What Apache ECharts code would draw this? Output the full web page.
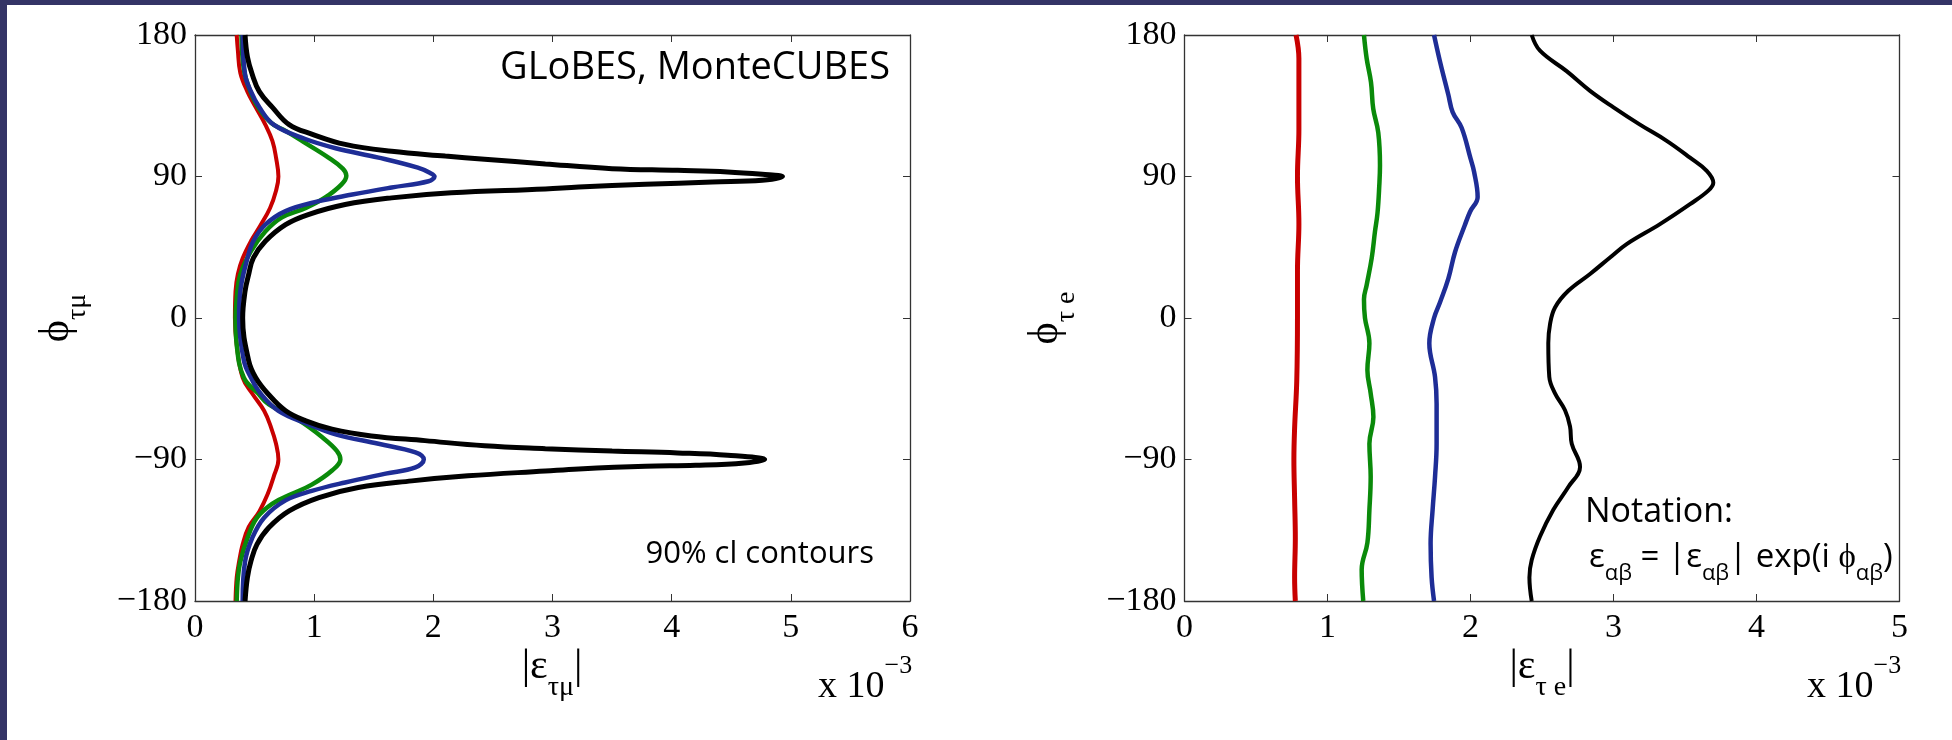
<!DOCTYPE html>
<html>
<head>
<meta charset="utf-8">
<script src="https://cdn.jsdelivr.net/npm/echarts@6.0.0/dist/echarts.min.js"></script>
<style>
html,body{margin:0;padding:0;background:#fff;}
#chart{width:1952px;height:740px;}
</style>
</head>
<body>
<div id="chart"></div>
<script>
// |eps| in units of 1e-3, phase in degrees; each contour traced from +180 down to -180

// left panel: |eps_tau mu| vs phi_tau mu
var tmRed = [[0.35,180],[0.36,170],[0.38,156],[0.44,144],[0.51,134],[0.59,123],[0.65,112.5],[0.68,102],[0.70,90],[0.68,81],[0.63,70],[0.55,59],[0.47,49],[0.40,38],[0.36,28],[0.34,17],[0.335,0],[0.35,-17],[0.40,-38],[0.48,-48],[0.58,-59],[0.64,-70],[0.68,-80],[0.70,-90],[0.66,-101],[0.61,-112],[0.54,-123],[0.45,-133],[0.40,-144],[0.37,-155],[0.35,-165],[0.34,-180]];
var tmGreen = [[0.39,180],[0.41,158],[0.46,145],[0.53,134],[0.64,124],[0.76,119],[0.91,112],[1.12,102],[1.24,95],[1.27,90.5],[1.23,85],[1.09,76.5],[0.93,70],[0.73,64],[0.59,55],[0.47,42.5],[0.38,27.6],[0.35,12.7],[0.34,0],[0.35,-17],[0.41,-38],[0.53,-48],[0.62,-55],[0.87,-65],[1.07,-76],[1.19,-84.5],[1.22,-90],[1.15,-97],[0.98,-106],[0.81,-112],[0.65,-118],[0.52,-127],[0.44,-140],[0.38,-155],[0.36,-165],[0.35,-180]];
var tmBlue = [[0.40,180],[0.42,155],[0.47,144],[0.54,134],[0.66,123],[0.92,114],[1.18,108],[1.54,102],[1.87,95.6],[1.97,92.4],[2.01,90],[1.96,87],[1.65,83],[1.32,78.5],[1.04,74.3],[0.76,68],[0.59,59.4],[0.49,49],[0.44,38],[0.38,17],[0.37,0],[0.41,-27],[0.47,-38],[0.55,-48],[0.70,-59],[0.95,-67.5],[1.18,-74],[1.54,-80],[1.85,-85.5],[1.92,-90],[1.85,-95],[1.60,-99],[1.26,-104.6],[0.98,-110],[0.76,-116],[0.58,-127],[0.48,-140],[0.42,-155],[0.40,-180]];
var tmBlack = [[0.42,180],[0.44,166],[0.48,155],[0.54,144],[0.65,134],[0.79,123],[0.98,117],[1.26,110.4],[1.65,106],[2.10,103],[2.43,101],[2.94,98],[3.50,95],[4.05,93.9],[4.47,92.9],[4.76,91.4],[4.93,90],[4.76,87.6],[4.34,86.5],[3.78,85],[3.22,83.3],[2.94,82],[2.15,79.6],[1.65,76.4],[1.26,72.2],[0.95,65.8],[0.76,59.4],[0.59,48.8],[0.49,38.2],[0.45,27.6],[0.42,17],[0.40,0],[0.45,-27],[0.51,-38],[0.61,-48],[0.76,-59],[0.93,-65.4],[1.15,-70.7],[1.48,-75],[1.93,-78],[2.43,-81.3],[2.94,-83.1],[3.50,-84.6],[4.05,-85.8],[4.47,-87.3],[4.78,-90],[4.61,-92.2],[4.20,-93.7],[3.78,-94.3],[3.22,-96],[2.94,-97.3],[2.29,-100.4],[1.82,-103.6],[1.37,-107.8],[1.04,-114.2],[0.79,-122.7],[0.62,-133.3],[0.52,-144],[0.47,-154.5],[0.44,-165],[0.42,-180]];

// right panel: |eps_tau e| vs phi_tau e
var teRed = [[0.78,180],[0.80,165],[0.80,140],[0.80,120],[0.79,90],[0.80,60],[0.79,30],[0.79,0],[0.785,-40],[0.77,-70],[0.765,-90],[0.77,-115],[0.775,-140],[0.77,-165],[0.775,-180]];
var teGreen = [[1.255,180],[1.274,165],[1.304,150],[1.32,133],[1.355,118],[1.367,97],[1.362,84],[1.35,67],[1.332,55],[1.309,38],[1.274,21],[1.255,12],[1.262,0],[1.293,-16],[1.279,-33],[1.302,-48],[1.321,-63],[1.293,-80],[1.302,-101],[1.293,-122],[1.279,-143],[1.239,-160],[1.25,-180]];
var teBlue = [[1.745,180],[1.787,163],[1.845,142],[1.875,131],[1.938,121],[2.0,101.5],[2.025,93],[2.05,77],[1.997,67.6],[1.96,59],[1.892,42],[1.845,25],[1.787,10],[1.745,0],[1.712,-16],[1.752,-37.5],[1.763,-54.5],[1.763,-80],[1.752,-101],[1.735,-122],[1.721,-143.5],[1.728,-165],[1.745,-180]];
var teBlack = [[2.428,180],[2.486,170],[2.672,157],[2.836,144.5],[3.0,134],[3.185,123],[3.372,112.7],[3.535,102],[3.652,93.6],[3.698,86],[3.663,81],[3.535,72.4],[3.325,59.7],[3.092,47],[2.976,38.5],[2.836,28],[2.684,17.3],[2.591,6.7],[2.556,-4],[2.544,-16],[2.551,-37.5],[2.591,-48],[2.661,-58.7],[2.696,-69],[2.708,-80],[2.766,-94.7],[2.684,-107.5],[2.579,-122],[2.486,-139],[2.428,-154],[2.412,-165],[2.428,-180]];

var phiTicks = [-180, -90, 0, 90, 180];
var leftXMax = 6;
var rightXMax = 5;

var SERIF = 'Liberation Serif';
var SANS = 'Open Sans';
var AXIS = '#333';

var chart = echarts.init(document.getElementById('chart'));

function xAx(grid, max, pos){
  return {
    type:'value', gridIndex:grid, min:0, max:max, interval:1, position:pos,
    axisLine:{onZero:false, lineStyle:{color:AXIS, width:1.3}},
    axisTick:{inside:true, length:7, lineStyle:{color:AXIS}},
    axisLabel:{show:pos=='bottom', fontFamily:SERIF, fontSize:34, color:'#000', margin:10},
    splitLine:{show:false}
  };
}
function yAx(grid, pos){
  return {
    type:'value', gridIndex:grid, min:phiTicks[0], max:phiTicks[phiTicks.length-1], interval:90, position:pos,
    axisLine:{onZero:false, lineStyle:{color:AXIS, width:1.3}},
    axisTick:{inside:true, length:7, lineStyle:{color:AXIS}},
    axisLabel:{show:pos=='left', fontFamily:SERIF, fontSize:34, color:'#000', margin:8,
      formatter:function(v){ return v<0 ? '\u2212'+Math.abs(v) : ''+v; }},
    splitLine:{show:false}
  };
}
function curve(data, color, g, w){
  return {
    type:'line', data:data, xAxisIndex:g*2, yAxisIndex:g*2,
    showSymbol:false, smooth:0.4, silent:true,
    lineStyle:{color:color, width:w||4.5}
  };
}

var subRich = {
  b:{fontFamily:SERIF, fontSize:42, verticalAlign:'top'},
  s:{fontFamily:SERIF, fontSize:28, verticalAlign:'top', padding:[28,0,0,0]}
};
var expRich = {
  m:{fontFamily:SERIF, fontSize:38, verticalAlign:'top', padding:[15,0,0,0]},
  u:{fontFamily:SERIF, fontSize:26, verticalAlign:'top'}
};
var noteRich = {
  t:{fontFamily:SANS, fontSize:33, verticalAlign:'top'},
  s:{fontFamily:SANS, fontSize:22, verticalAlign:'top', padding:[22,0,0,0]}
};

var option = {
  animation:false,
  backgroundColor:'#fff',
  grid:[
    {left:195, top:35, width:715, height:566},
    {left:1184.5, top:35, width:715, height:566}
  ],
  xAxis:[xAx(0,leftXMax,'bottom'), xAx(0,leftXMax,'top'), xAx(1,rightXMax,'bottom'), xAx(1,rightXMax,'top')],
  yAxis:[yAx(0,'left'), yAx(0,'right'), yAx(1,'left'), yAx(1,'right')],
  series:[
    curve(tmRed,'#c80000',0,4), curve(tmGreen,'#0a8a0a',0,4.5), curve(tmBlue,'#1e2d96',0,4.5), curve(tmBlack,'#000',0,5),
    curve(teRed,'#c80000',1,5), curve(teGreen,'#0a8a0a',1,4.5), curve(teBlue,'#1e2d96',1,4.5), curve(teBlack,'#000',1,4)
  ],
  graphic:[
    {type:'rect', shape:{x:0,y:0,width:1952,height:5}, style:{fill:'#343466'}},
    {type:'rect', shape:{x:0,y:0,width:7,height:740}, style:{fill:'#343466'}},
    // axis names
    {type:'text', x:552, y:646, style:{text:'{b||}{b|\u03b5}{s|\u03c4\u03bc}{b||}', align:'center', verticalAlign:'top', rich:subRich}},
    {type:'text', x:1542, y:646, style:{text:'{b||}{b|\u03b5}{s|\u03c4 e}{b||}', align:'center', verticalAlign:'top', rich:subRich}},
    {type:'text', x:36, y:318, rotation:Math.PI/2, style:{text:'{b|\u03d5}{s|\u03c4\u03bc}', align:'center', verticalAlign:'top', rich:subRich}},
    {type:'text', x:1025, y:318, rotation:Math.PI/2, style:{text:'{b|\u03d5}{s|\u03c4 e}', align:'center', verticalAlign:'top', rich:subRich}},
    {type:'text', x:818, y:653, style:{text:'{m|x 10}{u|\u22123}', align:'left', verticalAlign:'top', rich:expRich}},
    {type:'text', x:1807, y:653, style:{text:'{m|x 10}{u|\u22123}', align:'left', verticalAlign:'top', rich:expRich}},
    // annotations
    {type:'text', x:890, y:49, style:{text:'GLoBES, MonteCUBES', fontFamily:SANS, fontSize:38, fill:'#000', align:'right', verticalAlign:'top'}},
    {type:'text', x:874, y:539, style:{text:'90% cl contours', fontFamily:SANS, fontSize:31, fill:'#000', align:'right', verticalAlign:'top'}},
    {type:'text', x:1585, y:495, style:{text:'Notation:', fontFamily:SANS, fontSize:34, fill:'#000', align:'left', verticalAlign:'top'}},
    {type:'text', x:1589, y:541, style:{text:'{t|\u03b5}{s|\u03b1\u03b2}{t| = |\u03b5}{s|\u03b1\u03b2}{t|| exp(i \u03d5}{s|\u03b1\u03b2}{t|)}', align:'left', verticalAlign:'top', rich:noteRich}}
  ]
};
chart.setOption(option);
</script>
</body>
</html>
